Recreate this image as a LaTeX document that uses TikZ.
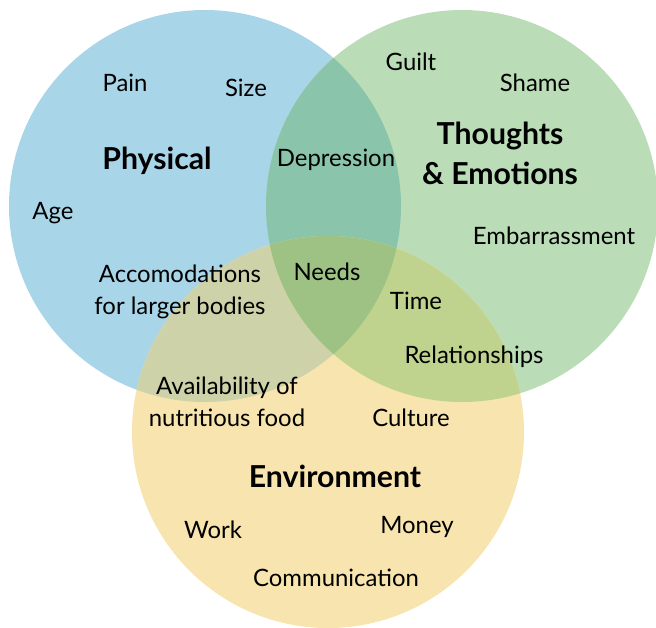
\documentclass[tikz,border=0pt]{standalone}
\usepackage{fontspec}
\setmainfont{Lato}
\usepackage{tikz}
\usetikzlibrary{positioning}
\usepackage{xcolor}
\definecolor{PhysBlue}{HTML}{A8D5E8}
\definecolor{ThoughtGreen}{HTML}{BADCB7}
\definecolor{EnvYellow}{HTML}{F8E4AE}
\definecolor{BlueGreen}{HTML}{8AC5AB}
\definecolor{BlueYellow}{HTML}{CED2A9}
\definecolor{GreenYellow}{HTML}{BFD38E}
\definecolor{AllThree}{HTML}{9DC283}

\begin{document}
\begin{tikzpicture}[
    x=0.025cm, y=-0.025cm,
    item/.style={align=center, inner sep=1pt, font=\fontsize{17}{22.7}\selectfont},
    title/.style={align=center, inner sep=1pt, font=\fontsize{21.5}{28.5}\selectfont\bfseries}
]
\useasboundingbox (0,0) rectangle (656,627);

% Circles
\fill[PhysBlue] (205,206) circle[radius=196];
\fill[ThoughtGreen] (462,206) circle[radius=196];
\fill[EnvYellow] (328,432) circle[radius=196];

% Overlaps
\begin{scope}
  \clip (205,206) circle[radius=196];
  \fill[BlueGreen] (462,206) circle[radius=196];
  \fill[BlueYellow] (328,432) circle[radius=196];
\end{scope}
\begin{scope}
  \clip (462,206) circle[radius=196];
  \fill[GreenYellow] (328,432) circle[radius=196];
\end{scope}
\begin{scope}
  \clip (205,206) circle[radius=196];
  \clip (462,206) circle[radius=196];
  \fill[AllThree] (328,432) circle[radius=196];
\end{scope}

% Physical
\node[title] (physical) at (157,161) {Physical};
\node[item] (pain) at (125,83) {Pain};
\node[item] (size) at (246,88) {Size};
\node[item] (age) at (53,213) {Age};
\node[item] (accom) at (180,292) {Accomodations\\for larger bodies};

% Thoughts & Emotions
\node[title] (thoughts) at (500,153) {Thoughts\\\& Emotions};
\node[item] (guilt) at (411,62) {Guilt};
\node[item] (shame) at (535,83) {Shame};
\node[item] (embarr) at (554,236) {Embarrassment};

% Environment
\node[title] (environment) at (335,476) {Environment};
\node[item] (work) at (213,530) {Work};
\node[item] (money) at (417,527) {Money};
\node[item] (comm) at (336,578) {Communication};
\node[item] (culture) at (411,418) {Culture};
\node[item] (avail) at (227,402) {Availability of\\nutritious food};

% Overlap labels
\node[item] (depression) at (336,160) {Depression};
\node[item] (needs) at (327,272) {Needs};
\node[item] (time) at (416,301) {Time};
\node[item] (relations) at (474,357) {Relationships};

\end{tikzpicture}
\end{document}
